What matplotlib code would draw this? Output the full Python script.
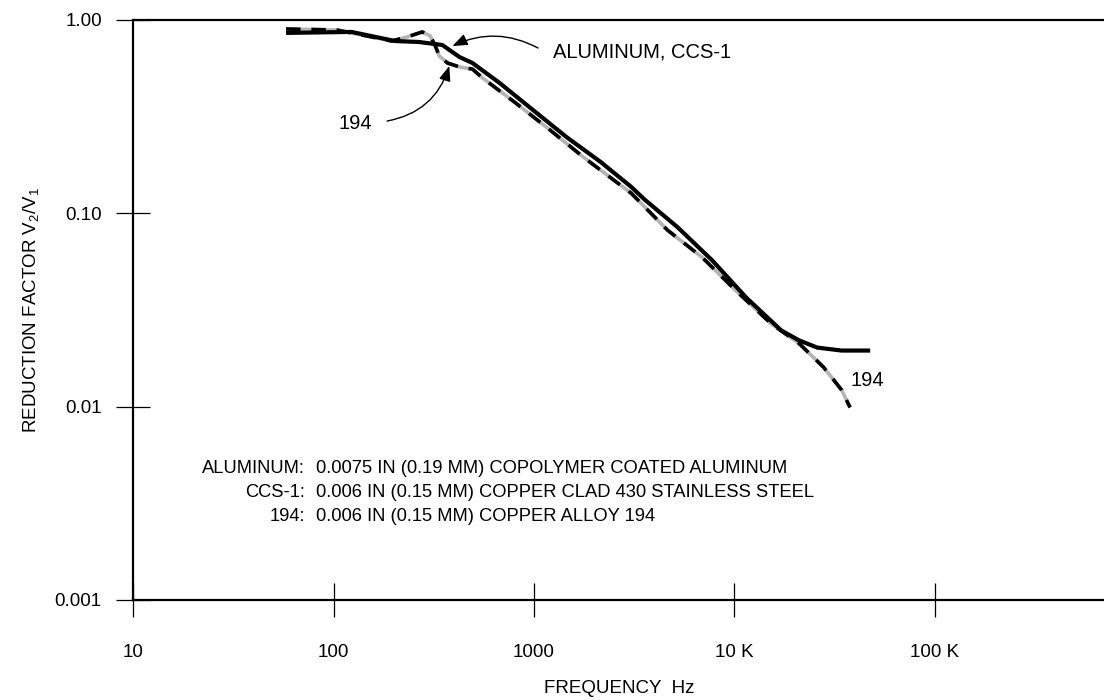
import numpy as np
import matplotlib
matplotlib.use('Agg')
import matplotlib.pyplot as plt

plt.rcParams['font.family'] = ['Liberation Sans', 'DejaVu Sans']
plt.rcParams['mathtext.fontset'] = 'custom'
plt.rcParams['mathtext.rm'] = 'Liberation Sans'
plt.rcParams['mathtext.it'] = 'Liberation Sans'

# ALUMINUM / CCS-1 curve (solid black)
al_freq = [58, 123, 203, 267, 349, 425, 493, 674, 989, 1452, 2154, 3054, 3555,
           5210, 7740, 11430, 17090, 21020, 25870, 34220, 47520]
al_ratio = [0.857, 0.867, 0.778, 0.769, 0.742, 0.643, 0.599, 0.472, 0.342, 0.248, 0.184,
            0.137, 0.118, 0.0846, 0.0571, 0.0367, 0.0248, 0.0220, 0.0202, 0.0195, 0.0195]

# copper alloy 194 curve (grey with black dashes)
cu_freq = [58, 104, 147, 195, 233, 277, 304, 322, 337, 370, 425, 493, 554, 813, 1205,
           1766, 3054, 4642, 6886, 10120, 15140, 21020, 27810, 34220, 37730]
cu_ratio = [0.898, 0.887, 0.826, 0.778, 0.817, 0.867, 0.826, 0.733, 0.651, 0.599, 0.571,
            0.557, 0.501, 0.371, 0.269, 0.195, 0.127, 0.0817, 0.0593, 0.0400, 0.0270,
            0.0212, 0.0160, 0.0122, 0.0099]

x_ticks = [10, 100, 1000, 10000, 100000]
x_labels = ['10', '100', '1000', '10 K', '100 K']
y_ticks = [0.001, 0.01, 0.1, 1.0]
y_labels = ['0.001', '0.01', '0.10', '1.00']

notes = ['ALUMINUM:', 'CCS-1:', '194:']
note_text = ['0.0075 IN (0.19 MM) COPOLYMER COATED ALUMINUM',
             '0.006 IN (0.15 MM) COPPER CLAD 430 STAINLESS STEEL',
             '0.006 IN (0.15 MM) COPPER ALLOY 194']

fig = plt.figure(figsize=(11.04, 7), dpi=100)
ax = fig.add_axes([0.1205, 0.1429, 0.8795, 0.8286])
ax.set_xscale('log')
ax.set_yscale('log')
ax.set_xlim(10, 6.97e5)
ax.set_ylim(0.001, 1.0)

ax.plot(cu_freq, cu_ratio, color='#b4b4b4', lw=2.6, zorder=2, solid_capstyle='butt')
ax.plot(al_freq, al_ratio, color='black', lw=3.0, zorder=3, solid_capstyle='butt')
ax.plot(cu_freq, cu_ratio, color='black', lw=2.6, zorder=4, linestyle=(0, (4, 3)),
        dash_capstyle='butt')

for side in ['left', 'bottom', 'top']:
    ax.spines[side].set_linewidth(1.6)
ax.spines['right'].set_visible(False)

ax.set_xticks(x_ticks)
ax.set_xticklabels(x_labels)
ax.set_yticks(y_ticks)
ax.set_yticklabels(y_labels)
ax.minorticks_off()
ax.tick_params(axis='both', direction='inout', length=25, width=0.9, labelsize=13.5)
ax.tick_params(axis='x', pad=19)
ax.tick_params(axis='y', pad=10)

# curve labels with arrows
ax.text(1245, 0.683, 'ALUMINUM, CCS-1', fontsize=14.5, ha='left', va='center')
ax.annotate('', xy=(392, 0.733), xytext=(1047, 0.716),
            arrowprops=dict(arrowstyle='-|>,head_length=0.9,head_width=0.35', color='black',
                            lw=1.0, shrinkA=0, shrinkB=0, connectionstyle='arc3,rad=0.25'))
ax.text(156, 0.293, '194', fontsize=14.5, ha='right', va='center')
ax.annotate('', xy=(378, 0.578), xytext=(185, 0.30),
            arrowprops=dict(arrowstyle='-|>,head_length=0.9,head_width=0.35', color='black',
                            lw=1.0, shrinkA=0, shrinkB=0, connectionstyle='arc3,rad=0.3'))
ax.text(37760, 0.0137, '194', fontsize=14.5, ha='left', va='center')

# material legend block
for i in range(3):
    yy = 0.2259 - i * 0.0414
    ax.text(0.177, yy, notes[i], transform=ax.transAxes, fontsize=13.2, ha='right', va='center')
    ax.text(0.1884, yy, note_text[i], transform=ax.transAxes, fontsize=13.2, ha='left', va='center')

fig.text(0.028, 0.557, 'REDUCTION FACTOR V$_2$/V$_1$', rotation=90, fontsize=13.5,
         ha='center', va='center')
fig.text(0.561, 0.017, 'FREQUENCY  Hz', fontsize=13.5, ha='center', va='center')

fig.savefig('out.png', dpi=100)
